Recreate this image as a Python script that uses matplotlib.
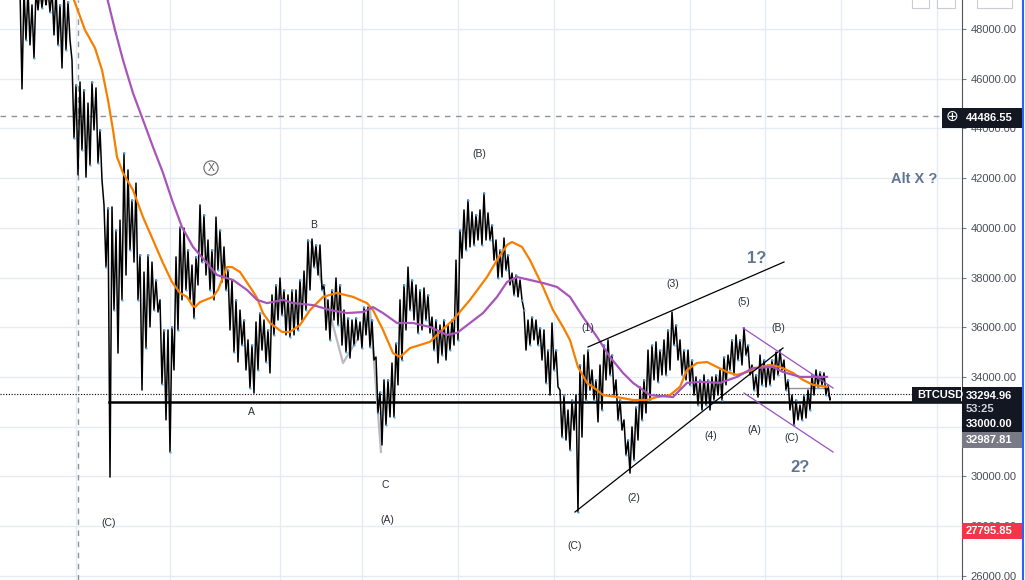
import matplotlib
matplotlib.use("Agg")
import matplotlib.pyplot as plt
from matplotlib.patches import Rectangle
import numpy as np

plt.rcParams['font.family'] = ['Liberation Sans', 'DejaVu Sans']

#-----------------------------
# DATA  (BTCUSD, bars spaced 4 px apart starting at x=20)
#-----------------------------
bar_high = [
    49600, 49600, 49600, 48970, 49600, 49600, 49600, 49600, 49600, 49600,
    48970, 49600, 49090, 46750, 45750, 45870, 45550, 45020, 45870, 45630,
    43940, 40920, 40800, 40840, 39910, 40310, 43010, 42330, 41120, 41800,
    38910, 38220, 38910, 38620, 37900, 37100, 35890, 35890, 36010, 38830,
    40030, 39990, 39110, 38500, 38830, 40920, 40520, 39510, 39110, 40430,
    39910, 39230, 38300, 37900, 37100, 36690, 36290, 35490, 35280, 36210,
    36570, 36290, 35890, 37300, 37700, 37980, 37500, 37300, 37500, 37500,
    37900, 38260, 39510, 39550, 39310, 39310, 37700, 37100, 37500, 37980,
    37700, 36690, 36370, 36290, 36370, 36210, 36810, 36810, 36290, 34800,
    33390, 33880, 33880, 34560, 35360, 37100, 37700, 38420, 37900, 37700,
    37500, 37580, 37300, 36410, 36290, 36090, 36290, 36090, 36290, 38700,
    39910, 40720, 41120, 40640, 40520, 40720, 41400, 40600, 40110, 39510,
    39110, 39590, 38910, 38180, 38100, 37900, 36690, 36290, 36410, 36290,
    35970, 35890, 35080, 36170, 35080, 33470, 33270, 32670, 33070, 33270,
    34480, 34880, 35080, 34280, 33880, 34480, 35280, 35490, 34880, 33880,
    33070, 32270, 31460, 31990, 32790, 33600, 33880, 35080, 35280, 35410,
    35080, 35490, 35890, 36610, 36090, 35490, 35080, 35080, 34680, 34000,
    33880, 34080, 33880, 34000, 34080, 34280, 34800, 34880, 35490, 35690,
    35490, 35970, 35280, 34480, 34080, 34880, 34680, 34480, 34680, 35000,
    35080, 34680, 33880, 33270, 33070, 32870, 33270, 33470, 34080, 34280,
    34200, 34160, 33680,
]
bar_low = [
    45590, 47560, 47360, 46830, 48770, 48850, 48970, 48680, 47760, 47360,
    46430, 47160, 47560, 43610, 42130, 43130, 42040, 42530, 43940, 42610,
    41920, 38420, 29970, 36690, 34960, 37100, 38100, 39110, 38620, 37100,
    33470, 35160, 36010, 36690, 36610, 33720, 32270, 30980, 34280, 35890,
    37100, 37500, 37100, 36370, 37700, 38620, 38100, 37500, 37100, 38300,
    37820, 37500, 35890, 35000, 34600, 35280, 34280, 33560, 33350, 34280,
    35080, 34600, 34160, 35690, 36290, 36490, 35690, 35610, 35690, 35890,
    36290, 36690, 37500, 38420, 38100, 37500, 35890, 35490, 36290, 36090,
    35280, 35000, 34760, 35280, 35490, 35160, 35690, 35200, 34680, 32550,
    31260, 32070, 32390, 32390, 33680, 34680, 35890, 36690, 36290, 35770,
    35890, 36290, 35770, 35080, 34560, 34880, 34680, 35080, 35280, 35490,
    38780, 39110, 39230, 39310, 39510, 39310, 39510, 39510, 38700, 37980,
    38020, 38300, 37700, 37300, 37220, 37100, 35080, 35280, 35490, 35280,
    34680, 33760, 33270, 34280, 33600, 31580, 31460, 31060, 31860, 28560,
    31580, 33070, 33470, 33070, 32190, 32670, 33880, 34080, 33270, 32270,
    31860, 30860, 30130, 30660, 31460, 32270, 32550, 33070, 33880, 33800,
    34080, 34080, 34280, 35280, 34680, 34080, 33880, 33680, 33270, 32870,
    32670, 32870, 32670, 33070, 33270, 33070, 33680, 34280, 34080, 34680,
    34480, 34880, 34080, 33470, 33190, 33680, 33600, 33680, 33880, 34080,
    34280, 33470, 32670, 32070, 32270, 32270, 32350, 32670, 33270, 33600,
    33680, 33270, 33070,
]
last_close = 33294.96

# moving averages (x, price)
ma_fast_x = [70, 85, 95, 102, 108, 113, 117, 123, 133, 143, 153, 163, 172, 180, 187,
             192, 195, 200, 213, 218, 227, 232, 240, 252, 257, 263, 270, 282, 290,
             300, 310, 323, 337, 353, 367, 373, 383, 393, 400, 410, 430, 440, 453,
             470, 487, 497, 507, 512, 522, 530, 543, 553, 563, 570, 578, 587, 597,
             603, 617, 633, 647, 657, 670, 680, 687, 697, 707, 717, 727, 737, 747,
             757, 770, 780, 793, 803, 813, 827]
ma_fast = [49600, 47960, 47235, 46350, 45140, 43940, 42850, 42210, 41520, 40430,
           39510, 38580, 37820, 37380, 37220, 36890, 36810, 37010, 37220, 37500,
           38420, 38420, 38220, 37500, 37180, 36570, 36170, 35810, 35810, 36090,
           36690, 37220, 37380, 37220, 36970, 36690, 35890, 34960, 34800, 35160,
           35410, 35810, 36290, 37100, 38020, 38700, 39310, 39430, 39230, 38700,
           37620, 36690, 36010, 35480, 34400, 33760, 33470, 33270, 33190, 33070,
           33070, 33190, 33270, 33600, 34280, 34560, 34600, 34400, 34200, 34080,
           34200, 34360, 34480, 34400, 34160, 33880, 33680, 33600]

ma_slow_x = [105, 115, 123, 133, 143, 153, 163, 172, 182, 193, 207, 217, 233, 247,
             257, 267, 283, 293, 313, 330, 347, 363, 373, 383, 397, 413, 430, 447,
             457, 470, 483, 497, 507, 517, 530, 543, 557, 570, 583, 597, 610, 623,
             633, 650, 673, 687, 700, 720, 737, 753, 773, 783, 800, 827]
ma_slow = [49600, 47960, 46750, 45420, 44340, 43250, 42210, 41120, 40030, 39230,
           38580, 38100, 37900, 37500, 37100, 36970, 37100, 36970, 36890, 36690,
           36570, 36610, 36810, 36570, 36170, 36170, 36010, 35690, 35770, 36170,
           36570, 37220, 37820, 38020, 37900, 37780, 37620, 37220, 36410, 35610,
           34800, 34160, 33760, 33270, 33190, 33760, 33800, 33760, 34000, 34360,
           34400, 34200, 34000, 34000]

price_ticks = list(range(26000, 48001, 2000))
vgrid_x = [76, 170, 280, 362, 458, 554, 690, 765, 841, 937]

# wave labels: (x, price, text)
wave_labels = [
    (314, 40113, "B"), (251, 32588, "A"), (385, 29651, "C"),
    (109, 28122, "(C)"), (387, 28243, "(A)"), (479, 42970, "(B)"),
    (588, 35968, "(1)"), (634, 29127, "(2)"), (673, 37739, "(3)"),
    (711, 31622, "(4)"), (744, 37015, "(5)"), (754, 31864, "(A)"),
    (778, 35968, "(B)"), (792, 31542, "(C)"), (575, 27196, "(C)"),
]
big_labels = [(757, 38785, "1?", 12), (800, 30375, "2?", 12), (914, 41964, "Alt X ?", 10.5)]

cross_price = 44486.55
level_price = 33000.0
px = 40.24   # price per pixel

#-----------------------------
# FIGURE
#-----------------------------
fig = plt.figure(figsize=(10.25, 5.8), dpi=100, facecolor="white")
ax = fig.add_axes([0, 0, 962 / 1025, 1])
ax.set_xlim(0, 962)
ax.set_ylim(25828, 49167)
ax.set_facecolor("white")

# grid
for v in price_ticks:
    ax.axhline(v, color="#e4ebf3", lw=1, zorder=0)
for gx in vgrid_x:
    ax.axvline(gx, color="#e4ebf3", lw=1, zorder=0)

# crosshair
ax.plot([0, 942], [cross_price, cross_price], color="#8f929b", lw=1, ls=(0, (4, 4)), zorder=1)
ax.axvline(78, color="#8f929b", lw=1, ls=(0, (4, 4)), zorder=1)

# levels
ax.plot([0, 912], [last_close, last_close], color="black", lw=0.8, ls=(0, (1, 1.5)), zorder=2)
ax.plot([109, 962], [level_price, level_price], color="black", lw=1.8, zorder=2)

# ghost wave lines
ax.plot([311, 343, 357], [39430, 34560, 35480], color="#b8bbc2", lw=1.6, zorder=2)
ax.plot([370, 381], [36690, 30980], color="#b8bbc2", lw=1.6, zorder=2)
ax.plot([788, 828], [33555, 33555], color="#8f929b", lw=1, zorder=2)

# price bars as zigzag between highs and lows
hi = np.array(bar_high)
lo = np.array(bar_low)
bx = 20 + 4 * np.arange(len(hi))
zx = np.empty(2 * len(hi))
zy = np.empty(2 * len(hi))
zx[0::2], zx[1::2] = bx, bx + 2
zy[0::2], zy[1::2] = hi, lo
zx = np.append(zx, 829)
zy = np.append(zy, last_close)
ax.plot(zx, zy, color="black", lw=1.1, zorder=3)
ax.plot(bx[::2], hi[::2], "o", ms=1.6, mew=0, color="#4aa3f5", zorder=3.5)
ax.plot(bx[1::2] + 2, lo[1::2], "o", ms=1.6, mew=0, color="#4aa3f5", zorder=3.5)

# moving averages
ax.plot(ma_fast_x, ma_fast, color="#f77f00", lw=1.6, zorder=4)
ax.plot(ma_slow_x, ma_slow, color="#a755b8", lw=1.6, zorder=4)

# wedge and channel
ax.plot([588, 784], [35204, 38624], color="black", lw=0.9, zorder=5)
ax.plot([575, 783], [28564, 35163], color="black", lw=0.9, zorder=5)
ax.plot([743, 833], [35968, 33555], color="#9c4fc4", lw=0.9, zorder=5)
ax.plot([744, 833], [33353, 30978], color="#9c4fc4", lw=0.9, zorder=5)

# labels
for x, y, t in wave_labels:
    ax.text(x, y, t, fontsize=7.5, color="#2a2e39", ha="center", va="center", zorder=6)
ax.text(211, 42407, "X", fontsize=7.5, color="#555", ha="center", va="center", zorder=6,
        bbox=dict(boxstyle="circle,pad=0.2", fc="none", ec="#666", lw=0.8))
for x, y, t, fs in big_labels:
    ax.text(x, y, t, fontsize=fs, color="#5f7590", fontweight="bold",
            ha="center", va="center", zorder=6)

# price scale (32000 is hidden behind the tags)
for s in ["left", "top", "bottom"]:
    ax.spines[s].set_visible(False)
ax.spines["right"].set_color("#50535e")
ax.set_xticks([])
ax.yaxis.tick_right()
ax.set_yticks(price_ticks)
ax.set_yticklabels(["" if v == 32000 else f"{v:.2f}" for v in price_ticks])
ax.tick_params(axis="y", direction="out", length=3, width=0.8, color="#787b86",
               labelcolor="#4a4d57", labelsize=8, pad=3)

# tags on the price scale
def tag(x0, w, top_px, h_px, color):
    ax.add_patch(Rectangle((x0, 49167 - (top_px + h_px) * px), w, h_px * px,
                           fc=color, ec="none", zorder=7, clip_on=False))

def tag_text(x, y_px, t, color="white", **kw):
    ax.text(x, 49167 - y_px * px, t, color=color, fontsize=8, fontweight="bold",
            va="center", ha="left", zorder=8, clip_on=False, **kw)

tag(942, 80, 108, 20, "#131722")
ax.text(951.5, cross_price, "\u2295", color="white", fontsize=11, ha="center",
        va="center", zorder=8, clip_on=False, family="DejaVu Sans")
tag_text(966, 118, "44486.55")

tag(912, 49, 387, 16, "#131722")
tag_text(917, 395, "BTCUSD")
tag(962, 60, 387, 45, "#131722")
tag_text(966, 396, "33294.96")
tag_text(966, 409, "53:25", color="#d1d4dc")
tag_text(966, 424, "33000.00")
tag(962, 60, 432, 16, "#787b86")
tag_text(966, 440, "32987.81")
tag(962, 60, 523, 16, "#f23645")
tag_text(966, 531, "27795.85")

# toolbar buttons and right border
for x0, w in [(912, 17), (937, 18), (977, 35)]:
    ax.add_patch(Rectangle((x0, 49167 - 8 * px), w, 12 * px, fc="white",
                           ec="#c9ccd3", lw=0.8, zorder=7, clip_on=False))
ax.plot([1023, 1023], [25828, 49167], color="#2962ff", lw=1.5, zorder=7, clip_on=False)

plt.savefig("out.png", dpi=100, facecolor="white")
plt.close()
